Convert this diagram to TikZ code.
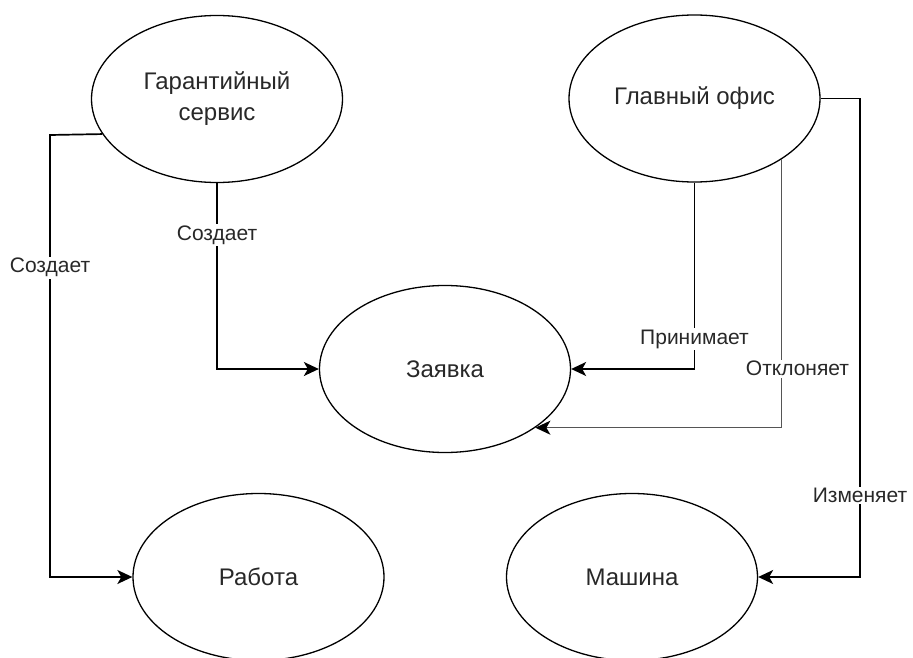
\documentclass[tikz,border=0pt]{standalone}
\usepackage{fontspec}
\setmainfont{Liberation Sans}
\definecolor{inkGray}{RGB}{40,40,40}
\definecolor{rejectGray}{RGB}{85,85,85}
\usetikzlibrary{shapes.geometric,arrows.meta,positioning}

\begin{document}
\begin{tikzpicture}[x=1pt, y=-1pt,
    entity/.style={draw, ellipse, line width=1.3pt, inner sep=0pt,
      minimum width=251pt, minimum height=167pt, text=inkGray,
      align=center, font=\fontsize{24}{31}\selectfont},
    link/.style={line width=1.7pt, -{Stealth[length=15pt, width=14pt, inset=4pt, color=black]}},
    lbl/.style={fill=white, text=inkGray, inner sep=1.5pt,
      font=\fontsize{21}{24}\selectfont}]
  \useasboundingbox (0,0) rectangle (913,658);
  % Entities
  \node[entity] (garant) at (217,99) {Гарантийный\\сервис};
  \node[entity] (office) at (694.5,98.5) {Главный офис};
  \node[entity] (zayavka) at (445,369) {Заявка};
  \node[entity] (rabota) at (258.5,577) {Работа};
  \node[entity] (mashina) at (632,577) {Машина};
  % Bends
  \coordinate (leftbend) at (50,135);
  \coordinate (rightbend) at (860,98.5);
  % Service creates
  \draw[link] (garant.197) -- (leftbend) |- node[lbl, pos=0.15] {Создает} (rabota.west);
  \draw[link] (garant.south) |- node[lbl, pos=0.14] {Создает} (zayavka.west);
  % Office accepts / rejects / changes
  \draw[link] (office.south) |- node[lbl, pos=0.42] {Принимает} (zayavka.east);
  \draw[link, rejectGray, line width=1.5pt] (office.-35) |- node[lbl, pos=0.39, xshift=16pt] {Отклоняет} (zayavka.-33);
  \draw[link] (office.east) -- (rightbend) |- node[lbl, pos=0.415] {Изменяет} (mashina.east);
\end{tikzpicture}
\end{document}
